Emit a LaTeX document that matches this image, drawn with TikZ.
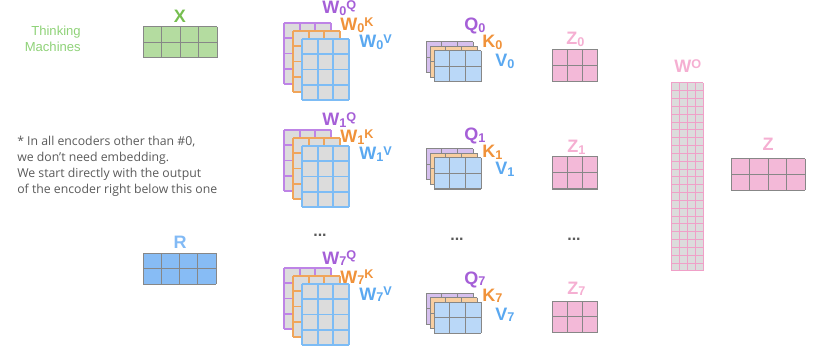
\documentclass[tikz,border=0pt]{standalone}
\usepackage{fontspec}
\setsansfont{Liberation Sans}
\newfontfamily\notefont{Open Sans}
\usetikzlibrary{positioning}
\definecolor{thinkGreen}{RGB}{143,210,120}
\definecolor{xGreen}{RGB}{118,190,80}
\definecolor{xFill}{RGB}{180,220,160}
\definecolor{qPurple}{RGB}{165,95,215}
\definecolor{qPurpleFill}{RGB}{214,192,238}
\definecolor{qPurpleLine}{RGB}{190,132,230}
\definecolor{kOrange}{RGB}{240,146,58}
\definecolor{kOrangeFill}{RGB}{248,206,160}
\definecolor{kOrangeLine}{RGB}{240,165,90}
\definecolor{vBlue}{RGB}{90,168,240}
\definecolor{vBlueFill}{RGB}{186,216,248}
\definecolor{vBlueLine}{RGB}{125,188,245}
\definecolor{zPink}{RGB}{245,175,210}
\definecolor{zFill}{RGB}{243,185,216}
\definecolor{woLine}{RGB}{240,160,200}
\definecolor{rBlue}{RGB}{130,186,245}
\definecolor{rFill}{RGB}{135,188,245}
\definecolor{cellGray}{RGB}{220,220,220}
\definecolor{gridLine}{RGB}{135,135,135}
\definecolor{noteGray}{RGB}{90,90,90}

% small index below / above the letter
\newcommand{\lsub}[1]{\raisebox{-1pt}{\fontsize{9.5}{10}\selectfont #1}}
\newcommand{\lsup}[1]{\raisebox{3.6pt}{\fontsize{9.5}{10}\selectfont #1}}

% x, y, cols, rows, cell w, cell h, fill, line
\newcommand{\matgrid}[8]{%
  \fill[#7] (#1,#2) rectangle ++(#3*#5,#4*#6);
  \foreach \i in {0,...,#3} \draw[line width=0.75pt, #8] (#1+\i*#5,#2) -- ++(0,#4*#6);
  \foreach \j in {0,...,#4} \draw[line width=0.75pt, #8] (#1,#2+\j*#6) -- ++(#3*#5,0);
}
% weight stack: top of purple
\newcommand{\wstack}[1]{%
  \matgrid{284}{#1}{3}{4}{15.67}{15.25}{cellGray}{qPurpleLine, line width=1.3pt}
  \matgrid{293}{#1+8}{3}{4}{15.67}{15.25}{cellGray}{kOrangeLine, line width=1.3pt}
  \matgrid{302}{#1+16}{3}{4}{15.67}{15.25}{cellGray}{vBlueLine, line width=1.3pt}
}
% q/k/v stack: top of purple
\newcommand{\qstack}[1]{%
  \matgrid{426}{#1}{3}{2}{15.67}{15.5}{qPurpleFill}{gridLine}
  \matgrid{430}{#1+4.5}{3}{2}{15.67}{15.5}{kOrangeFill}{gridLine}
  \matgrid{434}{#1+9}{3}{2}{15.67}{15.5}{vBlueFill}{gridLine}
}

\begin{document}
\begin{tikzpicture}[x=0.75pt, y=-0.75pt,
  lbl/.style={font=\sffamily\bfseries\fontsize{13.5}{16}\selectfont, inner sep=0pt},
  dots/.style={font=\sffamily\bfseries\fontsize{12}{14}\selectfont, text=noteGray, inner sep=0pt},
  note/.style={font=\notefont\fontsize{9.2}{12}\selectfont, text=noteGray, align=left, inner sep=0pt},
  brand/.style={font=\sffamily\fontsize{9.8}{12}\selectfont, text=thinkGreen, align=right, inner sep=0pt}]

\useasboundingbox (0,0) rectangle (817,349);

%
\node[brand, anchor=north east] (brand) at (81,26) {Thinking\\Machines};

%
\node[note, anchor=north west] (note) at (17,136)
  {* In all encoders other than \#0,\\we don’t need embedding.\\We start directly with the output\\of the encoder right below this one};

%
\matgrid{143}{27}{4}{2}{18.5}{15.5}{xFill}{gridLine}
\node[lbl, text=xGreen, anchor=base] (xlbl) at (180,23) {X};

%
\matgrid{143}{253}{4}{2}{18.25}{15.5}{rFill}{gridLine}
\node[lbl, text=rBlue, anchor=base] (rlbl) at (180,248) {R};

%
\wstack{23}
\node[lbl, text=qPurple, anchor=base west] (wq0) at (322,14) {W\lsub{0}\lsup{Q}};
\node[lbl, text=kOrange, anchor=base west] (wk0) at (340,31) {W\lsub{0}\lsup{K}};
\node[lbl, text=vBlue, anchor=base west] (wv0) at (359,48) {W\lsub{0}\lsup{V}};

\wstack{130}
\node[lbl, text=qPurple, anchor=base west] (wq1) at (322,126) {W\lsub{1}\lsup{Q}};
\node[lbl, text=kOrange, anchor=base west] (wk1) at (340,143) {W\lsub{1}\lsup{K}};
\node[lbl, text=vBlue, anchor=base west] (wv1) at (359,160) {W\lsub{1}\lsup{V}};

\wstack{268}
\node[lbl, text=qPurple, anchor=base west] (wq7) at (322,264) {W\lsub{7}\lsup{Q}};
\node[lbl, text=kOrange, anchor=base west] (wk7) at (340,283) {W\lsub{7}\lsup{K}};
\node[lbl, text=vBlue, anchor=base west] (wv7) at (359,300) {W\lsub{7}\lsup{V}};

%
\qstack{42}
\node[lbl, text=qPurple, anchor=base west] (q0) at (464,31) {Q\lsub{0}};
\node[lbl, text=kOrange, anchor=base west] (k0) at (482,48) {K\lsub{0}};
\node[lbl, text=vBlue, anchor=base west] (v0) at (495,67) {V\lsub{0}};

\qstack{149}
\node[lbl, text=qPurple, anchor=base west] (q1) at (464,141) {Q\lsub{1}};
\node[lbl, text=kOrange, anchor=base west] (k1) at (482,158) {K\lsub{1}};
\node[lbl, text=vBlue, anchor=base west] (v1) at (495,175) {V\lsub{1}};

\qstack{293}
\node[lbl, text=qPurple, anchor=base west] (q7) at (464,284) {Q\lsub{7}};
\node[lbl, text=kOrange, anchor=base west] (k7) at (482,301) {K\lsub{7}};
\node[lbl, text=vBlue, anchor=base west] (v7) at (495,320) {V\lsub{7}};

%
\matgrid{552}{50}{3}{2}{15.33}{16}{zFill}{gridLine}
\node[lbl, text=zPink, anchor=base west] (z0) at (566,45) {Z\lsub{0}};
\matgrid{552}{157}{3}{2}{15.33}{16}{zFill}{gridLine}
\node[lbl, text=zPink, anchor=base west] (z1) at (567,153) {Z\lsub{1}};
\matgrid{552}{301}{3}{2}{15.33}{15.5}{zFill}{gridLine}
\node[lbl, text=zPink, anchor=base west] (z7) at (567,294) {Z\lsub{7}};

%
\node[dots] (dotsw) at (320,235) {...};
\node[dots] (dotsq) at (457,239) {...};
\node[dots] (dotsz) at (574,239) {...};

%
\fill[cellGray] (671,83) rectangle (703,271);
\foreach \i in {0,...,4} \draw[woLine, line width=0.75pt] (671+\i*8,83) -- (671+\i*8,271);
\foreach \j in {0,...,24} \draw[woLine, line width=0.75pt] (671,83+\j*7.833) -- (703,83+\j*7.833);
\node[lbl, text=zPink, anchor=base west] (wo) at (674,73) {W\lsup{O}};

%
\matgrid{731}{159}{4}{2}{18.5}{15.5}{zFill}{gridLine}
\node[lbl, text=zPink, anchor=base] (zlbl) at (768,151) {Z};

\end{tikzpicture}
\end{document}
